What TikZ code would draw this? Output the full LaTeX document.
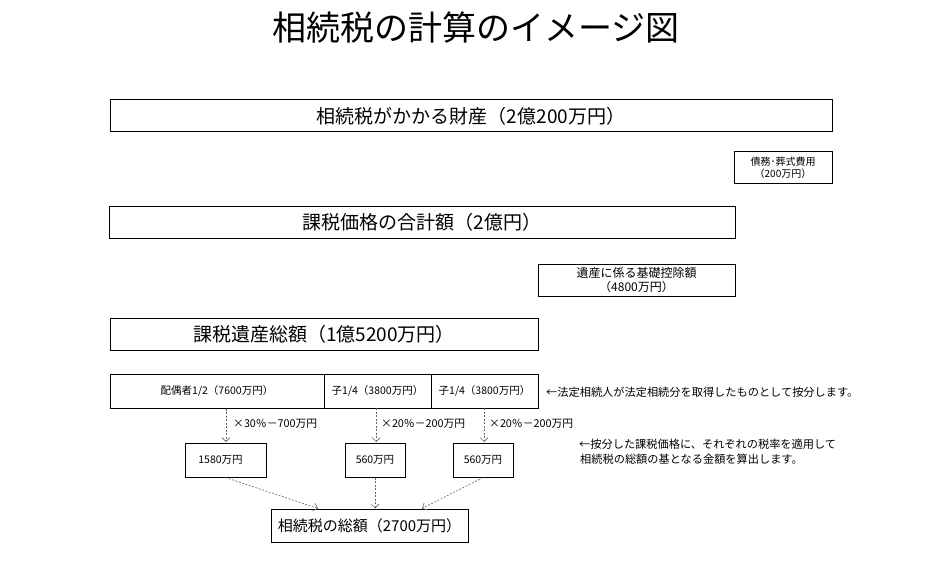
\documentclass[tikz,border=0pt]{standalone}
\usepackage{fontspec}
\setmainfont{Noto Sans CJK JP}
\usetikzlibrary{arrows.meta}
\tikzset{
  box/.style={draw=black, line width=1pt, fill=white, inner sep=0pt, align=center},
  big/.style={font=\fontsize{19}{21}\selectfont},
  mid/.style={font=\fontsize{15}{17}\selectfont},
  small/.style={font=\fontsize{10.5}{12}\selectfont},
  tiny/.style={font=\fontsize{10}{11.5}\selectfont},
  dedf/.style={font=\fontsize{12}{14}\selectfont},
  lab/.style={font=\fontsize{10.8}{12}\selectfont},
  note/.style={font=\fontsize{11.2}{15}\selectfont, anchor=west, inner sep=0pt, align=left},
  darr/.style={draw=gray!80!black, line width=0.6pt, dash pattern=on 2pt off 1.5pt, -{Straight Barb[length=4pt,width=8pt]}}
}
\begin{document}
\begin{tikzpicture}[x=1pt,y=-1pt]
\useasboundingbox (0,0) rectangle (951,567);
\node[font=\fontsize{34}{37}\selectfont] (title) at (476,28) {相続税の計算のイメージ図};

\node[box,big,minimum width=722pt,minimum height=32pt] (b1) at (471,116) {相続税がかかる財産（2億200万円）};
\node[box,tiny,minimum width=98pt,minimum height=32pt] (debt) at (783,168) {債務･葬式費用\\（200万円）};
\node[box,big,minimum width=626pt,minimum height=32pt] (b2) at (422,222) {課税価格の合計額（2億円）};
\node[box,dedf,minimum width=197pt,minimum height=32pt] (ded) at (636.5,280) {遺産に係る基礎控除額\\（4800万円）};
\node[box,big,minimum width=428pt,minimum height=32pt] (b3) at (324,334) {課税遺産総額（1億5200万円）};

\node[box,small,minimum width=214pt,minimum height=34pt] (s1) at (217,391) {配偶者1/2（7600万円）};
\node[box,small,minimum width=107pt,minimum height=34pt] (s2) at (377.5,391) {子1/4（3800万円）};
\node[box,small,minimum width=107pt,minimum height=34pt] (s3) at (484.5,391) {子1/4（3800万円）};
\node[note] (n1) at (546,392) {←法定相続人が法定相続分を取得したものとして按分します。};

\node[box,small,minimum width=81pt,minimum height=34pt] (t1) at (225.5,460) {1580万円\hspace{10pt}};
\node[box,small,minimum width=60pt,minimum height=34pt] (t2) at (375,460) {560万円};
\node[box,small,minimum width=60pt,minimum height=34pt] (t3) at (483,460) {560万円};
\node[note] (n2) at (579,452) {←按分した課税価格に、それぞれの税率を適用して\\\hspace{1pt}相続税の総額の基となる金額を算出します。};

\node[box,mid,minimum width=197pt,minimum height=33pt] (total) at (369.5,525.5) {相続税の総額（2700万円）};

\draw[darr] (s1.south -| 226,0) -- (226,442) coordinate (a1e);
\draw[darr] (376,408) -- (376,442);
\draw[darr] (484,408) -- (484,442);
\node[note,lab] (l1) at (233,424) {×30％－700万円};
\node[note,lab] (l2) at (381,424) {×20％－200万円};
\node[note,lab] (l3) at (489,424) {×20％－200万円};

\draw[darr] (t1.south) -- (318,508.5);
\draw[darr] (t2.south) -- (t2.south |- total.north);
\draw[darr] (t3.south) -- (422,508.5);
\end{tikzpicture}
\end{document}
